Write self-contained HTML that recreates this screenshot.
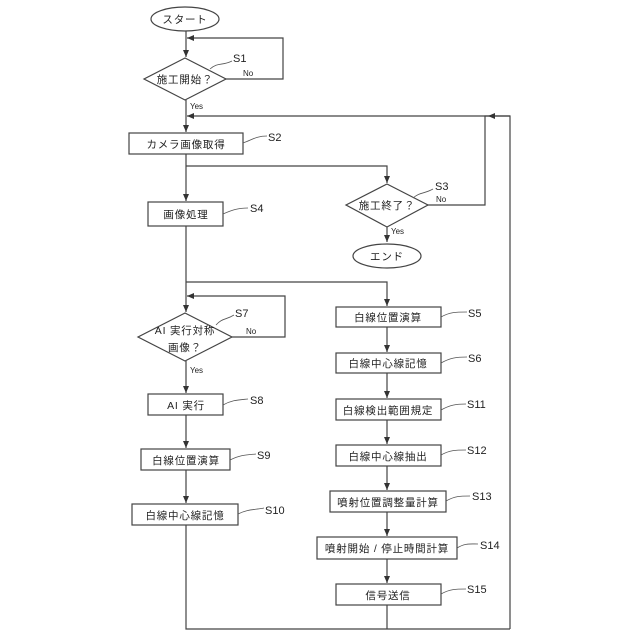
<!DOCTYPE html>
<html><head><meta charset="utf-8"><style>
html,body{margin:0;padding:0;background:#fff}
svg{display:block}
text{font-family:"Liberation Sans","Noto Sans CJK JP",sans-serif;fill:#222}
.b{font-size:10.5px;text-anchor:middle;letter-spacing:0.8px}
.l{font-size:11px;font-family:"Liberation Sans Narrow","Liberation Sans",sans-serif}
.s{font-size:8px}
</style></head><body>
<svg width="640" height="640" viewBox="0 0 640 640" xmlns="http://www.w3.org/2000/svg">
<defs><marker id="a" markerWidth="8" markerHeight="8" refX="7" refY="4" orient="auto" markerUnits="userSpaceOnUse"><path d="M0,1 L7,4 L0,7 z" fill="#333"/></marker></defs>
<g fill="none" stroke="#444" stroke-width="1.2">
<!-- start -->
<ellipse cx="185" cy="19" rx="34" ry="12" fill="#fff"/>
<line x1="186" y1="31" x2="186" y2="57" marker-end="url(#a)"/>
<polyline points="225,79 283,79 283,38 187,38" marker-end="url(#a)"/>
<polygon points="185,58 226,79 185,100 144,79" fill="#fff"/>
<line x1="186" y1="100" x2="186" y2="132" marker-end="url(#a)"/>
<polyline points="510,629 510,116 187,116" marker-end="url(#a)"/>
<polyline points="427,205 485,205 485,116 488,116"/>
<line x1="510" y1="116" x2="488" y2="116" marker-end="url(#a)"/>
<rect x="129" y="133" width="114" height="21" fill="#fff"/>
<line x1="186" y1="154" x2="186" y2="201" marker-end="url(#a)"/>
<polyline points="186,166 387,166 387,183" marker-end="url(#a)"/>
<polygon points="387,184 428,205 387,227 346,205" fill="#fff"/>
<line x1="387" y1="227" x2="387" y2="242" marker-end="url(#a)"/>
<ellipse cx="387" cy="256" rx="34" ry="12" fill="#fff"/>
<rect x="148" y="202" width="75" height="24" fill="#fff"/>
<line x1="186" y1="226" x2="186" y2="312" marker-end="url(#a)"/>
<polyline points="186,282 387,282 387,306" marker-end="url(#a)"/>
<polyline points="232,337 285,337 285,296 187,296" marker-end="url(#a)"/>
<polygon points="185,313 232,337 185,361 138,337" fill="#fff"/>
<line x1="186" y1="361" x2="186" y2="393" marker-end="url(#a)"/>
<rect x="148" y="394" width="75" height="21" fill="#fff"/>
<line x1="186" y1="415" x2="186" y2="448" marker-end="url(#a)"/>
<rect x="141" y="449" width="89" height="21" fill="#fff"/>
<line x1="186" y1="470" x2="186" y2="503" marker-end="url(#a)"/>
<rect x="132" y="504" width="106" height="21" fill="#fff"/>
<polyline points="186,525 186,629 510,629"/>
<!-- right column -->
<rect x="336" y="307" width="105" height="20" fill="#fff"/>
<line x1="387" y1="327" x2="387" y2="352" marker-end="url(#a)"/>
<rect x="336" y="353" width="105" height="20" fill="#fff"/>
<line x1="387" y1="373" x2="387" y2="398" marker-end="url(#a)"/>
<rect x="336" y="399" width="105" height="21" fill="#fff"/>
<line x1="387" y1="420" x2="387" y2="444" marker-end="url(#a)"/>
<rect x="336" y="445" width="105" height="21" fill="#fff"/>
<line x1="387" y1="466" x2="387" y2="490" marker-end="url(#a)"/>
<rect x="330" y="491" width="116" height="21" fill="#fff"/>
<line x1="387" y1="512" x2="387" y2="536" marker-end="url(#a)"/>
<rect x="317" y="537" width="140" height="22" fill="#fff"/>
<line x1="387" y1="559" x2="387" y2="583" marker-end="url(#a)"/>
<rect x="336" y="584" width="105" height="21" fill="#fff"/>
<line x1="387" y1="605" x2="387" y2="629"/>
</g>
<!-- leaders -->
<g fill="none" stroke="#555" stroke-width="0.8">
<path d="M210,69 C218,62 222,66 232,61"/>
<path d="M243,143 C252,140 256,136 267,136"/>
<path d="M223,214 C232,210 238,208 248,208"/>
<path d="M413,198 C420,192 424,194 433,189"/>
<path d="M216,325 C222,318 226,320 234,315"/>
<path d="M223,405 C232,400 238,400 248,399"/>
<path d="M230,460 C240,455 245,455 256,454"/>
<path d="M238,514 C248,509 254,510 264,508"/>
<path d="M441,317 C450,312 456,312 467,312"/>
<path d="M441,363 C450,358 456,357 467,357"/>
<path d="M441,410 C450,405 456,404 466,404"/>
<path d="M441,455 C450,450 456,450 466,450"/>
<path d="M446,501 C455,496 460,496 470,496"/>
<path d="M457,548 C465,543 470,544 478,544"/>
<path d="M441,594 C450,589 456,589 466,589"/>
</g>
<g>
<text class="b" x="185" y="23">スタート</text>
<text class="b" x="185" y="83">施工開始？</text>
<text class="b" x="186" y="148">カメラ画像取得</text>
<text class="b" x="186" y="218">画像処理</text>
<text class="b" x="387" y="209">施工終了？</text>
<text class="b" x="387" y="260">エンド</text>
<text class="b" x="185" y="334">AI 実行対称</text>
<text class="b" x="185" y="351">画像？</text>
<text class="b" x="186" y="409">AI 実行</text>
<text class="b" x="186" y="464">白線位置演算</text>
<text class="b" x="185" y="519">白線中心線記憶</text>
<text class="b" x="388" y="321">白線位置演算</text>
<text class="b" x="388" y="367">白線中心線記憶</text>
<text class="b" x="388" y="414">白線検出範囲規定</text>
<text class="b" x="388" y="460">白線中心線抽出</text>
<text class="b" x="388" y="506">噴射位置調整量計算</text>
<text class="b" x="387" y="552">噴射開始 / 停止時間計算</text>
<text class="b" x="388" y="599">信号送信</text>
</g>
<g class="l">
<text class="l" x="233" y="62">S1</text>
<text class="l" x="268" y="141">S2</text>
<text class="l" x="435" y="190">S3</text>
<text class="l" x="250" y="212">S4</text>
<text class="l" x="235" y="317">S7</text>
<text class="l" x="250" y="404">S8</text>
<text class="l" x="257" y="459">S9</text>
<text class="l" x="265" y="514">S10</text>
<text class="l" x="468" y="317">S5</text>
<text class="l" x="468" y="362">S6</text>
<text class="l" x="467" y="408">S11</text>
<text class="l" x="467" y="454">S12</text>
<text class="l" x="472" y="500">S13</text>
<text class="l" x="480" y="549">S14</text>
<text class="l" x="467" y="593">S15</text>
</g>
<g class="s">
<text class="s" x="243" y="76">No</text>
<text class="s" x="190" y="109">Yes</text>
<text class="s" x="436" y="202">No</text>
<text class="s" x="391" y="234">Yes</text>
<text class="s" x="246" y="334">No</text>
<text class="s" x="190" y="373">Yes</text>
</g>
</svg>
</body></html>
